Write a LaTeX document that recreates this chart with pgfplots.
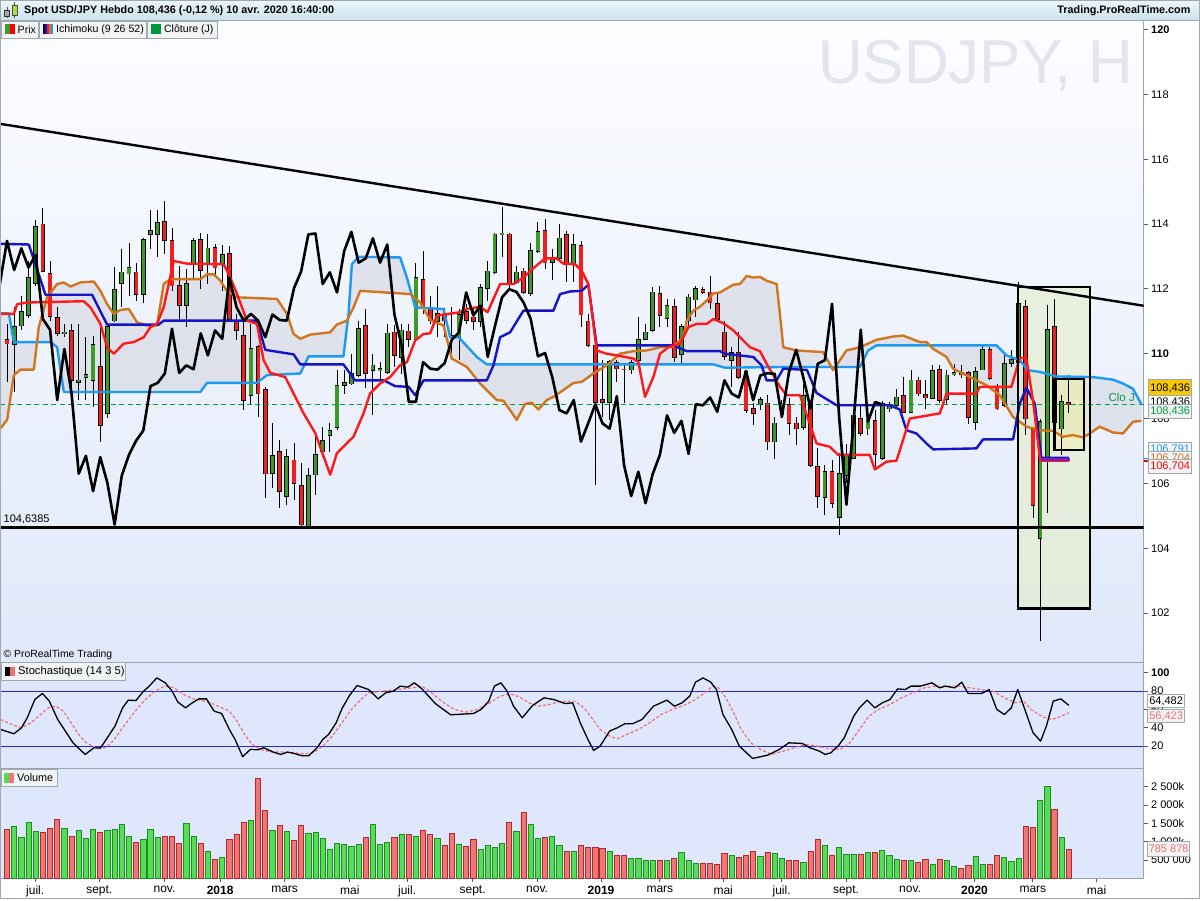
\documentclass[border=0pt]{standalone}
\usepackage{fontspec}
\setmainfont{Liberation Sans}
\usepackage{pgfplots}
\pgfplotsset{compat=1.18}
\usepackage{pgfplotstable}

\definecolor{frame}{HTML}{9AA4AE}
\definecolor{pTop}{HTML}{FCFDFF}
\definecolor{pBot}{HTML}{E0E8FA}
\definecolor{sBg}{HTML}{DEE7FB}
\definecolor{tenkan}{HTML}{FF1A1A}
\definecolor{kijun}{HTML}{1414C8}
\definecolor{spanA}{HTML}{1E9BF0}
\definecolor{spanB}{HTML}{D0761C}
\definecolor{cloud}{HTML}{D6D9E3}
\definecolor{upBody}{HTML}{3C9A28}
\definecolor{dnBody}{HTML}{F02020}
\definecolor{upVol}{HTML}{55DD55}
\definecolor{upVolE}{HTML}{1E8C1E}
\definecolor{dnVol}{HTML}{F07575}
\definecolor{dnVolE}{HTML}{B02A2A}
\definecolor{cloj}{HTML}{00A040}
\definecolor{wm}{HTML}{E3E5EE}
\definecolor{purp}{HTML}{7A1FB8}
\definecolor{stD}{HTML}{F07070}
\definecolor{stH}{HTML}{2828D8}
\definecolor{hdrTop}{HTML}{ECF6FB}
\definecolor{hdrBot}{HTML}{CCE2EE}
\definecolor{boxBg}{HTML}{F1F3F5}
\definecolor{boxBd}{HTML}{A0A8B0}
\definecolor{rectBig}{HTML}{E4EDC4}
\definecolor{rectSm}{HTML}{F2F0A8}
\definecolor{gold}{HTML}{F8C800}
\definecolor{navyI}{HTML}{000050}
\definecolor{iconG}{HTML}{009638}
\definecolor{lime}{HTML}{A8E240}

% weekly candles: index, open, high, low, close, volume (k), up flag
\pgfplotstableread{
i O H L C V d
0 110.43 110.92 109.13 110.31 1326 0
1 110.31 111.43 108.82 110.84 1417 1
2 110.87 111.79 110.72 111.28 1117 1
3 111.18 112.86 111.10 112.35 1517 1
4 112.17 114.14 112.10 113.91 1272 1
5 113.99 114.50 112.51 112.54 1253 0
6 112.47 112.86 111.02 111.15 1353 0
7 111.10 111.43 110.56 110.63 1599 0
8 110.62 110.92 110.51 110.66 1353 1
9 110.70 110.92 108.67 109.18 1135 0
10 109.13 110.92 108.57 109.18 1299 1
11 109.28 110.51 108.57 109.36 1081 1
12 109.18 110.56 108.36 110.26 1326 1
13 109.59 110.82 107.29 107.80 1244 0
14 108.16 110.87 108.01 110.82 1299 1
15 111.02 112.68 110.97 111.96 1326 1
16 112.17 113.22 111.43 112.51 1462 1
17 112.47 113.43 111.79 112.64 1135 1
18 112.51 112.81 111.64 111.84 972 0
19 111.84 113.58 111.58 113.50 1054 1
20 113.68 114.42 113.22 113.80 1326 1
21 113.70 114.42 112.97 114.04 1108 1
22 114.07 114.72 113.07 113.50 1135 0
23 113.48 113.89 111.94 112.10 1135 0
24 112.10 112.71 111.02 111.51 945 0
25 111.51 112.61 110.82 112.15 1490 1
26 112.76 113.58 112.35 113.48 1135 1
27 113.50 113.73 111.99 112.58 945 0
28 112.76 113.68 112.15 113.25 727 1
29 113.27 113.37 112.40 112.66 509 0
30 112.78 113.37 111.94 113.05 563 1
31 113.07 113.32 111.02 111.07 1054 0
32 110.97 111.23 110.41 110.74 1190 0
33 110.56 111.02 108.26 108.57 1517 0
34 108.72 110.92 108.42 110.15 1571 1
35 110.20 110.26 108.04 108.77 2716 0
36 108.88 108.98 105.55 106.30 1844 0
37 106.32 107.87 105.86 106.85 1299 1
38 106.98 107.34 105.25 105.76 1435 0
39 105.60 107.06 105.35 106.81 1272 1
40 106.71 107.24 105.50 106.01 1026 0
41 105.93 106.63 104.68 104.73 1435 0
42 104.68 106.47 104.63 106.24 1217 1
43 106.27 107.55 105.65 106.88 1244 1
44 106.98 107.75 106.83 107.32 1081 1
45 107.49 107.85 106.98 107.63 781 1
46 107.75 109.49 107.65 109.00 945 1
47 109.03 109.51 108.77 109.10 917 1
48 109.08 110.00 109.03 109.39 863 1
49 109.34 111.02 109.28 110.77 917 1
50 110.85 111.38 108.93 109.41 1108 0
51 109.49 110.00 108.11 109.64 1462 1
52 109.49 109.74 109.18 109.52 917 1
53 109.44 110.92 109.39 110.63 972 1
54 110.66 110.90 109.59 109.95 1108 0
55 109.90 110.92 109.39 110.72 1190 1
56 110.69 110.92 110.20 110.46 1190 0
57 110.46 112.81 110.41 112.35 1135 1
58 112.27 113.17 111.23 111.43 1299 0
59 111.38 111.79 110.92 111.02 1190 0
60 111.02 112.10 110.51 111.23 1081 1
61 111.18 111.41 110.51 111.02 890 0
62 110.56 111.43 109.80 110.51 1217 0
63 110.51 111.38 109.80 111.21 917 1
64 111.28 111.53 110.92 111.04 863 0
65 111.12 111.43 110.72 111.02 1054 0
66 111.02 112.15 110.82 112.02 781 1
67 112.02 112.86 111.64 112.54 890 1
68 112.51 113.73 112.45 113.68 836 1
69 113.68 114.52 112.97 113.71 945 1
70 113.68 113.73 111.94 112.15 1517 0
71 112.20 112.71 112.15 112.51 1272 1
72 112.54 112.66 111.84 111.89 1789 0
73 111.86 113.43 111.79 113.17 1462 1
74 113.17 114.07 113.12 113.76 1081 1
75 113.80 114.17 112.61 112.81 1108 0
76 112.84 113.22 112.27 112.94 1135 1
77 112.94 114.01 112.86 113.56 890 1
78 113.66 113.78 112.20 112.81 727 0
79 112.78 113.70 112.20 113.37 727 1
80 113.32 113.48 110.82 111.21 890 0
81 111.00 111.23 110.20 110.26 836 0
82 110.26 110.31 105.96 108.52 836 0
83 108.57 109.80 108.06 108.52 817 0
84 108.52 109.80 107.96 109.74 727 1
85 109.71 109.80 109.13 109.54 618 0
86 109.52 109.69 108.47 109.51 618 0
87 109.51 109.82 109.39 109.71 536 1
88 109.80 111.12 109.74 110.43 536 1
89 110.46 110.92 110.41 110.66 481 1
90 110.72 112.07 110.66 111.89 481 1
91 111.84 112.10 110.82 111.18 481 0
92 111.10 111.69 110.82 111.48 481 1
93 111.45 111.69 109.74 109.90 536 0
94 110.00 110.92 109.69 110.84 699 1
95 111.02 111.84 110.82 111.74 481 1
96 111.67 112.10 111.12 111.99 409 1
97 111.97 112.07 111.84 111.91 409 0
98 111.89 112.40 111.38 111.58 409 0
99 111.53 111.84 111.02 111.07 372 0
100 110.66 111.02 109.80 109.92 672 0
101 109.80 110.20 108.98 110.02 618 1
102 110.02 110.66 109.23 109.28 563 0
103 109.44 109.49 108.16 108.26 618 0
104 108.31 108.47 107.80 108.16 727 0
105 108.45 108.67 108.26 108.57 590 1
106 108.47 108.72 107.03 107.29 699 0
107 107.29 108.06 106.75 107.85 672 1
108 108.14 108.57 108.08 108.44 536 1
109 108.41 108.62 107.49 107.85 481 0
110 107.85 108.05 107.18 107.69 481 0
111 107.73 109.08 107.66 108.69 427 1
112 108.46 108.51 106.50 106.57 727 0
113 106.52 107.08 105.24 105.61 1054 0
114 105.59 106.57 105.03 106.36 890 1
115 106.36 106.72 105.24 105.39 618 0
116 104.96 106.95 104.42 106.29 836 1
117 106.25 107.23 106.00 106.88 645 1
118 106.77 108.26 106.74 108.10 645 1
119 108.00 108.40 107.45 107.56 645 0
120 107.69 108.46 107.49 107.93 699 1
121 107.93 108.26 106.52 106.91 699 0
122 106.77 108.55 106.72 108.44 754 1
123 108.31 108.51 108.21 108.41 618 1
124 108.41 108.92 108.36 108.65 509 1
125 108.70 109.28 108.16 108.21 481 0
126 108.21 109.49 108.16 109.18 481 1
127 109.18 109.28 108.69 108.77 427 0
128 108.74 109.18 108.31 108.65 509 0
129 108.64 109.64 108.62 109.47 372 1
130 109.49 109.66 108.48 108.57 509 0
131 108.59 109.49 108.46 109.33 481 1
132 109.36 109.69 109.30 109.40 318 1
133 109.40 109.66 109.26 109.38 263 0
134 109.41 109.47 107.83 108.05 345 0
135 107.90 109.59 107.64 109.44 590 1
136 109.51 110.26 109.49 110.12 372 1
137 110.12 110.20 109.18 109.26 372 0
138 108.98 109.08 108.26 108.31 618 0
139 108.41 109.95 108.36 109.69 563 1
140 109.71 110.10 109.59 109.80 454 1
141 109.75 112.20 109.60 111.54 536 1
142 111.45 111.66 107.49 108.00 1408 0
143 107.64 107.75 104.93 105.34 1381 0
144 104.31 108.00 101.14 107.90 2116 1
145 106.74 111.49 105.08 110.74 2498 1
146 110.82 111.69 107.85 107.90 1871 0
147 107.69 108.72 106.88 108.51 1108 1
148 108.48 109.36 108.18 108.436 786 0
}\candles

\pgfplotstableread{
x y
-0.9 113.39
3.04 113.37
4.9 112.13
5.36 111.82
11.86 111.82
13.95 110.90
21.15 110.90
21.84 111.02
34.84 111.02
36.0 110.12
39.95 109.98
40.88 109.67
46.9 109.67
48.5 109.18
52.5 109.18
54.1 109.0
55.97 108.98
56.9 108.72
58.06 109.18
66.88 109.18
67.8 109.64
68.73 110.51
70.12 110.66
71.98 111.33
76.16 111.33
77.09 111.84
78.48 111.92
80.1 111.94
81.03 112.13
82.19 110.26
92.87 110.26
94.73 110.08
99.37 110.08
100.07 110.0
104.02 109.90
105.18 109.64
105.87 109.18
107.27 109.18
108.2 109.54
111.5 109.50
112.84 108.79
115.62 108.41
123.05 108.41
124.44 108.28
125.37 107.64
126.76 107.54
128.16 107.23
129.09 107.05
135.12 107.08
136.05 107.36
140.23 107.36
141.16 108.46
142.09 108.95
143.25 108.46
144.17 106.79
148.0 106.79
}\kijun

\pgfplotstableread{
x y
-0.9 111.23
0.95 111.23
1.42 111.53
2.81 111.58
10.7 111.62
11.63 111.43
13.02 110.92
13.95 110.20
14.88 110.0
16.27 110.31
17.67 110.36
19.06 110.51
19.99 110.82
20.91 110.92
21.84 111.43
23.24 112.86
25.09 112.78
30.2 112.76
31.13 112.35
32.06 111.84
33.45 111.02
34.84 110.92
35.77 109.80
36.7 109.41
38.79 109.28
39.95 108.77
41.34 108.16
42.97 107.55
44.13 106.83
45.05 106.27
45.98 106.93
47.84 107.34
48.3 107.44
49.7 108.16
50.6 108.77
52.0 109.08
53.4 109.28
54.8 109.65
55.73 109.74
56.9 110.41
58.06 110.61
58.99 110.63
59.92 111.18
63.17 111.28
64.1 111.38
65.95 111.45
66.98 111.28
68.73 112.15
70.59 112.15
71.98 112.35
73.38 112.64
75.0 112.94
76.63 112.94
77.56 112.78
79.18 112.76
80.1 112.56
81.03 112.15
82.19 110.10
83.58 110.0
84.98 109.95
87.3 109.85
88.0 109.74
88.93 108.67
90.09 109.28
91.02 110.0
92.18 110.20
93.81 110.31
94.97 110.82
96.13 110.92
97.52 110.92
98.45 111.07
99.85 110.94
101.24 110.72
102.17 110.51
103.56 110.20
104.95 110.08
105.88 109.69
107.74 108.98
108.66 108.72
110.52 108.72
112.84 107.23
114.69 107.13
115.85 106.88
120.26 106.88
120.96 106.43
122.58 106.67
123.98 106.70
125.84 108.0
130.02 108.16
130.95 108.77
135.12 108.77
135.59 108.98
140.0 108.98
141.16 109.88
142.09 109.85
143.0 108.57
144.0 106.70
148.0 106.70
}\tenkan

\pgfplotstableread{
x y
-0.9 111.25
0.26 111.25
0.95 110.36
6.06 110.36
6.99 110.20
7.92 108.82
26.95 108.82
27.88 109.10
34.84 109.10
36.23 109.34
40.88 109.39
42.04 109.92
46.9 109.92
47.6 111.23
48.07 112.76
49.0 112.99
54.8 112.97
55.73 112.35
56.9 111.43
60.84 111.38
61.77 110.51
62.93 110.51
65.49 109.90
66.88 109.67
98.45 109.67
100.07 109.57
107.73 109.59
118.87 109.59
120.03 110.10
121.2 110.26
137.9 110.26
139.3 109.95
141.16 109.80
142.32 109.49
143.94 109.44
146.26 109.30
151.37 109.28
154.15 109.20
155.55 109.08
156.94 108.92
158.1 108.45
}\spanAtab

\pgfplotstableread{
x y
-0.9 107.70
0.02 107.96
0.95 109.34
1.88 109.51
3.74 109.51
4.43 110.82
5.59 111.74
6.99 112.15
7.92 112.20
8.84 112.07
10.24 112.20
12.09 112.23
13.02 111.94
13.95 111.53
14.88 111.23
15.81 111.35
16.97 111.38
18.13 110.97
19.52 110.87
20.91 110.87
21.84 112.15
22.77 112.30
26.95 112.30
27.88 112.45
28.81 112.45
29.74 112.25
30.66 111.94
32.06 111.74
37.63 111.69
39.02 111.23
39.95 110.61
40.88 110.46
42.27 110.59
45.05 110.66
45.98 110.90
47.38 111.02
48.3 111.43
49.23 111.94
54.8 111.86
56.2 111.84
57.59 111.58
58.99 111.04
60.84 110.87
62.0 109.85
64.1 109.59
65.95 109.08
67.12 108.82
68.27 108.57
69.2 108.55
70.12 108.26
71.05 107.96
72.21 108.45
73.14 108.49
74.07 108.28
75.23 108.57
76.16 108.67
77.56 108.88
78.96 109.10
80.1 109.13
81.73 109.39
83.58 109.64
85.44 110.0
87.3 110.08
89.16 110.10
91.02 110.20
92.87 110.22
94.27 110.51
94.73 111.02
95.66 111.33
96.59 111.45
97.52 111.64
98.45 111.86
99.37 111.89
101.24 112.13
102.17 112.15
103.09 112.40
104.02 112.35
104.95 112.37
105.88 112.25
107.27 112.15
107.73 111.23
108.2 110.20
110.05 110.10
113.76 110.05
115.15 109.49
117.0 110.10
118.87 110.20
121.2 110.43
123.51 110.53
124.9 110.56
127.23 110.36
128.16 110.36
129.09 110.15
130.95 109.90
131.87 109.54
133.73 109.33
136.51 109.03
138.37 108.72
140.23 108.05
142.09 107.75
143.94 107.64
145.8 107.62
147.19 107.44
148.58 107.49
149.98 107.42
150.91 107.54
152.3 107.75
154.15 107.57
155.55 107.54
156.94 107.90
158.1 107.93
}\spanBtab

% cloud outline: first span forward, second span backward
\pgfplotstableread{
x y
-0.9 111.25
0.26 111.25
0.95 110.36
6.06 110.36
6.99 110.20
7.92 108.82
26.95 108.82
27.88 109.10
34.84 109.10
36.23 109.34
40.88 109.39
42.04 109.92
46.9 109.92
47.6 111.23
48.07 112.76
49.0 112.99
54.8 112.97
55.73 112.35
56.9 111.43
60.84 111.38
61.77 110.51
62.93 110.51
65.49 109.90
66.88 109.67
98.45 109.67
100.07 109.57
107.73 109.59
118.87 109.59
120.03 110.10
121.2 110.26
137.9 110.26
139.3 109.95
141.16 109.80
142.32 109.49
143.94 109.44
146.26 109.30
151.37 109.28
154.15 109.20
155.55 109.08
156.94 108.92
158.1 108.45
158.1 107.93
156.94 107.90
155.55 107.54
154.15 107.57
152.3 107.75
150.91 107.54
149.98 107.42
148.58 107.49
147.19 107.44
145.8 107.62
143.94 107.64
142.09 107.75
140.23 108.05
138.37 108.72
136.51 109.03
133.73 109.33
131.87 109.54
130.95 109.90
129.09 110.15
128.16 110.36
127.23 110.36
124.9 110.56
123.51 110.53
121.2 110.43
118.87 110.20
117.0 110.10
115.15 109.49
113.76 110.05
110.05 110.10
108.2 110.20
107.73 111.23
107.27 112.15
105.88 112.25
104.95 112.37
104.02 112.35
103.09 112.40
102.17 112.15
101.24 112.13
99.37 111.89
98.45 111.86
97.52 111.64
96.59 111.45
95.66 111.33
94.73 111.02
94.27 110.51
92.87 110.22
91.02 110.20
89.16 110.10
87.3 110.08
85.44 110.0
83.58 109.64
81.73 109.39
80.1 109.13
78.96 109.10
77.56 108.88
76.16 108.67
75.23 108.57
74.07 108.28
73.14 108.49
72.21 108.45
71.05 107.96
70.12 108.26
69.2 108.55
68.27 108.57
67.12 108.82
65.95 109.08
64.1 109.59
62.0 109.85
60.84 110.87
58.99 111.04
57.59 111.58
56.2 111.84
54.8 111.86
49.23 111.94
48.3 111.43
47.38 111.02
45.98 110.90
45.05 110.66
42.27 110.59
40.88 110.46
39.95 110.61
39.02 111.23
37.63 111.69
32.06 111.74
30.66 111.94
29.74 112.25
28.81 112.45
27.88 112.45
26.95 112.30
22.77 112.30
21.84 112.15
20.91 110.87
19.52 110.87
18.13 110.97
16.97 111.38
15.81 111.35
14.88 111.23
13.95 111.53
13.02 111.94
12.09 112.23
10.24 112.20
8.84 112.07
7.92 112.20
6.99 112.15
5.59 111.74
4.43 110.82
3.74 109.51
1.88 109.51
0.95 109.34
0.02 107.96
-0.9 107.70
}\cloudtab

\pgfplotstableread{
x y
-0.9 38.2
0.96 33.5
2.02 40.0
2.82 50.9
3.88 70.9
4.94 77.5
5.9 69.1
7.07 49.1
8.13 36.4
9.2 23.6
10.9 10.9
12.12 18.2
13.02 17.8
13.98 29.1
15.05 41.8
16.11 61.8
16.91 70.2
17.97 69.8
19.03 80.0
19.83 85.5
20.89 94.5
22.06 89.1
23.02 80.0
23.82 68.0
24.88 61.8
25.68 66.5
26.74 71.6
27.8 71.6
28.87 58.2
29.93 55.6
30.99 38.2
31.79 27.3
32.85 8.4
33.92 16.4
34.98 16.0
35.78 18.2
37.11 13.5
38.17 10.9
39.08 13.5
40.03 12.0
41.1 9.5
42.05 9.5
43.22 18.2
44.02 27.3
44.82 32.7
45.88 45.5
46.68 60.7
47.74 75.3
48.8 86.2
50.4 81.8
51.73 71.6
52.79 78.2
53.85 80.0
54.81 85.5
55.87 84.4
56.78 89.1
57.84 82.5
59.7 66.5
61.83 54.2
65.02 55.6
66.08 60.0
67.15 69.1
67.94 85.5
68.85 89.1
69.7 80.0
70.6 63.6
71.82 50.9
73.26 64.4
74.85 72.7
76.18 70.9
77.78 66.5
78.84 67.3
79.9 45.5
80.97 27.3
81.77 15.3
82.67 20.0
84.0 36.4
85.06 40.0
86.12 44.4
87.19 44.4
88.52 49.1
90.11 63.6
91.97 70.2
93.04 63.6
94.1 67.3
95.16 74.5
95.96 89.8
97.02 94.5
98.09 89.8
98.88 81.8
99.79 54.5
101.01 38.2
102.07 20.0
103.93 6.5
106.06 10.2
107.66 16.4
108.98 23.6
110.85 22.9
111.91 18.2
113.24 14.5
114.04 10.9
114.83 12.7
115.9 20.7
116.7 29.1
118.02 52.7
118.82 61.8
119.88 70.2
120.95 61.8
122.01 67.3
123.07 70.9
124.14 82.5
125.2 81.8
126.0 85.5
127.33 85.5
128.93 89.1
129.99 83.6
130.78 85.5
132.11 83.6
133.07 89.8
133.97 77.5
135.83 77.5
136.9 81.8
137.96 60.0
139.02 54.5
139.98 61.8
140.88 81.8
141.95 58.2
143.01 34.5
144.07 25.5
144.87 41.8
145.83 69.1
146.89 71.6
148.0 64.48
}\stochK

\pgfplotstableread{
x y
-0.9 49.1
0.69 43.6
2.02 40.0
3.35 45.5
4.41 52.7
5.74 61.8
6.8 63.6
7.87 58.2
8.93 45.5
9.99 32.7
11.06 23.6
12.39 18.2
13.72 18.2
14.78 25.5
16.11 40.0
17.17 50.9
18.23 61.8
19.3 70.9
20.63 80.0
21.96 85.5
23.29 83.6
24.61 76.4
25.94 71.6
27.27 69.8
28.6 66.5
29.93 61.8
30.99 58.2
32.06 47.3
33.12 32.7
34.18 21.8
35.25 16.4
36.84 13.5
38.44 13.5
40.03 12.7
41.63 11.6
42.69 12.7
44.02 20.0
45.35 30.9
46.68 45.5
48.01 60.0
49.34 70.9
50.4 78.2
52.26 80.0
54.39 81.8
56.51 83.6
57.84 85.5
59.17 78.2
60.77 68.0
62.36 60.0
63.96 57.1
65.55 60.0
67.15 66.5
68.74 74.5
70.07 77.1
71.4 73.8
72.73 67.3
74.06 63.6
75.65 65.5
77.25 69.1
79.11 69.1
80.44 61.8
81.5 50.9
82.67 38.2
84.0 30.9
85.06 28.0
86.39 32.7
87.98 38.2
89.58 45.5
91.17 54.5
92.77 60.0
94.36 64.4
95.96 70.9
97.29 78.2
98.35 85.5
99.15 83.6
100.21 72.7
101.28 56.4
102.34 38.2
103.67 23.6
105.0 16.4
106.59 10.9
108.19 14.5
109.78 18.2
111.38 21.8
112.97 20.0
114.57 17.1
116.17 16.4
117.49 23.6
118.82 38.2
120.15 52.7
121.48 60.0
123.07 65.5
124.67 72.7
126.26 78.2
127.86 83.6
129.45 85.5
132.64 85.5
134.24 83.6
135.83 81.8
137.43 80.0
139.02 72.7
140.62 67.3
141.68 69.1
142.75 60.0
144.34 52.0
145.67 49.1
146.73 52.0
148.0 56.42
}\stochD

\pgfplotsset{
  chartax/.style={
    scale only axis, width=1144pt, anchor=north west,
    xmin=-0.905, xmax=158.43,
    axis line style={draw=frame, line width=1pt},
    ytick pos=right, yticklabel pos=right,
    tick align=outside, major tick length=4pt,
    tick style={draw=black!65, line width=0.8pt},
    tick label style={font=\fontsize{11}{13}\selectfont, text=black},
    clip=true,
  },
  up/.style={restrict expr to domain={\thisrow{d}}{0.5:1.5}},
  dn/.style={restrict expr to domain={\thisrow{d}}{-0.5:0.5}},
}

\newcommand{\valbox}[7]{%
  \filldraw[fill=#5, draw=boxBd, line width=0.8pt] (#1,#2) rectangle (#3,#4);
  \node[text=#6, font=\fontsize{11}{13}\selectfont, inner sep=0pt] at ({(#1+#3)/2},{(#2+#4)/2}) {#7};}

\begin{document}
\begin{tikzpicture}[x=1pt,y=1pt]
\fill[white] (0,0) rectangle (1200,900);
\shade[top color=hdrTop, bottom color=hdrBot] (0,880) rectangle (1200,900);
\shade[top color=pTop, bottom color=pBot] (0,237) rectangle (1144,879);
\fill[sBg] (0,21) rectangle (1144,237);
\node[anchor=base west, text=wm, font=\fontsize{62}{62}\selectfont, inner sep=0pt]
  at (818,816) {USDJPY, H};

% ---------------- price panel ----------------
\begin{axis}[chartax,
  at={(0pt,879pt)}, height=642pt,
  ymin=100.475, ymax=120.265,
  xtick=\empty,
  ytick={102,104,...,120},
  yticklabels={102,104,106,108,\textbf{110},112,114,116,118,\textbf{120}},
]
\addplot[fill=cloud, fill opacity=0.65, draw=none, forget plot] table {\cloudtab};

\addplot[fill=rectBig, fill opacity=0.55, draw=none, forget plot]
  coordinates {(140.9,112.05) (151.0,112.05) (151.0,102.14) (140.9,102.14) (140.9,112.05)};
\addplot[fill=rectSm, fill opacity=0.45, draw=none, forget plot]
  coordinates {(146.0,109.22) (150.07,109.22) (150.07,107.03) (146.0,107.03) (146.0,109.22)};

% wicks
\addplot[draw=none, mark=none, forget plot,
  error bars/.cd, y dir=both, y explicit, error mark=none,
  error bar style={draw=black, line width=0.9pt}]
  table[x=i, y expr={(\thisrow{H}+\thisrow{L})/2}, y error expr={(\thisrow{H}-\thisrow{L})/2}] {\candles};
% body outlines
\addplot[draw=none, mark=none, forget plot,
  error bars/.cd, y dir=both, y explicit, error mark=none,
  error bar style={draw=black, line width=4.7pt}]
  table[x=i, y expr={(\thisrow{O}+\thisrow{C})/2}, y error expr={abs(\thisrow{C}-\thisrow{O})/2+0.025}] {\candles};
% bodies
\addplot[draw=none, mark=none, forget plot, up,
  error bars/.cd, y dir=both, y explicit, error mark=none,
  error bar style={draw=upBody, line width=3.2pt}]
  table[x=i, y expr={(\thisrow{O}+\thisrow{C})/2}, y error expr={abs(\thisrow{C}-\thisrow{O})/2}] {\candles};
\addplot[draw=none, mark=none, forget plot, dn,
  error bars/.cd, y dir=both, y explicit, error mark=none,
  error bar style={draw=dnBody, line width=3.2pt}]
  table[x=i, y expr={(\thisrow{O}+\thisrow{C})/2}, y error expr={abs(\thisrow{C}-\thisrow{O})/2}] {\candles};

% support and trend lines
\addplot[black, line width=2.1pt, forget plot] coordinates {(-0.905,104.6385) (158.43,104.6385)};
\addplot[black, line width=2.4pt, forget plot] coordinates {(-0.905,117.09) (158.43,111.48)};
\addplot[cloj, line width=1.6pt, dash pattern=on 5pt off 3.5pt, forget plot]
  coordinates {(-0.905,108.436) (158.43,108.436)};

% ichimoku
\addplot[spanA, line width=2.4pt, line join=round, forget plot] table {\spanAtab};
\addplot[spanB, line width=2.4pt, line join=round, forget plot] table {\spanBtab};
\addplot[kijun, line width=2.4pt, line join=round, forget plot] table {\kijun};
\addplot[tenkan, line width=2.4pt, line join=round, forget plot] table {\tenkan};
\addplot[black, line width=2.6pt, line join=round, forget plot]
  table[x expr={\thisrow{i}-26}, y=C] {\candles};
\addplot[purp, line width=2.4pt, forget plot] coordinates {(144.1,106.74) (148.1,106.74)};

% boxes
\addplot[draw=black, line width=2.2pt, line join=miter, forget plot]
  coordinates {(140.9,112.05) (151.0,112.05) (151.0,102.14) (140.9,102.14) (140.9,112.05)};
\addplot[draw=black, line width=2.2pt, line join=miter, forget plot]
  coordinates {(146.0,109.22) (150.07,109.22) (150.07,107.03) (146.0,107.03) (146.0,109.22)};
\end{axis}

% ---------------- stochastic panel ----------------
\begin{axis}[chartax,
  at={(0pt,237pt)}, height=106pt,
  ymin=-4.36, ymax=111.3,
  xtick=\empty,
  ytick={20,40,60,80,100},
  yticklabels={20,40,60,80,\textbf{100}},
]
\addplot[stH, line width=1.2pt] coordinates {(-1,80) (159,80)};
\addplot[stH, line width=1.2pt] coordinates {(-1,20) (159,20)};
\addplot[stD, line width=1.2pt, dash pattern=on 3pt off 2pt] table {\stochD};
\addplot[black, line width=1.3pt, line join=round] table {\stochK};
\end{axis}

% ---------------- volume panel ----------------
\begin{axis}[chartax,
  at={(0pt,131pt)}, height=110pt,
  ymin=0, ymax=3000,
  ytick={500,1000,1500,2000,2500},
  yticklabels={500 000,1 000k,1 500k,2 000k,2 500k},
  xtick pos=left,
  xtick={3.93,12.87,21.95,29.71,38.70,47.79,55.77,64.90,73.89,82.80,91.0,99.83,107.97,116.95,125.88,134.86,142.99,151.86},
  xticklabels={juil.,sept.,nov.,\textbf{2018},mars,mai,juil.,sept.,nov.,\textbf{2019},mars,mai,juil.,sept.,nov.,\textbf{2020},mars,mai},
  xticklabel style={font=\fontsize{12}{14}\selectfont},
]
\addplot[ybar, bar width=5.2pt, bar shift=0pt, fill=upVol, draw=upVolE, line width=0.8pt, up]
  table[x=i, y=V] {\candles};
\addplot[ybar, bar width=5.2pt, bar shift=0pt, fill=dnVol, draw=dnVolE, line width=0.8pt, dn]
  table[x=i, y=V] {\candles};
\end{axis}

% ---------------- header and labels ----------------
\draw[boxBd, line width=0.8pt] (0,879.6) -- (1200,879.6);
\draw[black!70, line width=0.6pt] (6.5,882) -- (6.5,893);
\filldraw[fill=gray!70, draw=black!80, line width=0.5pt] (4,884) rectangle (9,890);
\draw[black!70, line width=0.6pt] (14,882) -- (14,898);
\filldraw[fill=lime, draw=black!70, line width=0.5pt] (11.5,885) rectangle (16.5,895);
\node[anchor=west, inner sep=0pt, font=\bfseries\fontsize{10.8}{13}\selectfont] at (23.5,889.5)
  {Spot USD/JPY Hebdo 108,436 (-0,12 \%) 10 avr. 2020 16:40:00};
\node[anchor=east, inner sep=0pt, font=\bfseries\fontsize{10.8}{13}\selectfont] at (1191,889.5)
  {Trading.ProRealTime.com};

\filldraw[fill=boxBg, draw=boxBd, line width=0.8pt] (0.5,862) rectangle (38,879);
\fill[upBody] (4.5,866) rectangle (9.5,876); \fill[red] (9.5,866) rectangle (14.5,876);
\node[anchor=west, inner sep=0pt, font=\fontsize{10.6}{13}\selectfont] at (17,870.5) {Prix};
\filldraw[fill=boxBg, draw=boxBd, line width=0.8pt] (39,862) rectangle (146,879);
\fill[navyI] (43,866) rectangle (45,876);
\fill[kijun] (45,866) rectangle (47,876);
\fill[tenkan] (47,866) rectangle (49,876);
\fill[spanB] (49,866) rectangle (51,876);
\fill[spanA] (51,866) rectangle (53,876);
\node[anchor=west, inner sep=0pt, font=\fontsize{10.6}{13}\selectfont] at (55.5,870.5) {Ichimoku (9 26 52)};
\filldraw[fill=boxBg, draw=boxBd, line width=0.8pt] (147,862) rectangle (217,879);
\fill[iconG] (151,866) rectangle (161,876);
\node[anchor=west, inner sep=0pt, font=\fontsize{10.6}{13}\selectfont] at (163.5,870.5) {Clôture (J)};

\node[anchor=west, inner sep=0pt, font=\fontsize{10.4}{13}\selectfont] at (3,244.5) {© ProRealTime Trading};
\filldraw[fill=boxBg, draw=boxBd, line width=0.8pt] (0.5,219) rectangle (125,237);
\fill[black] (5,223) rectangle (10,232); \fill[stD] (10,223) rectangle (15,232);
\node[anchor=west, inner sep=0pt, font=\fontsize{11.2}{13}\selectfont] at (17.5,227.5) {Stochastique (14 3 5)};
\filldraw[fill=boxBg, draw=boxBd, line width=0.8pt] (0.5,113) rectangle (57,130);
\fill[upVol] (4,116.5) rectangle (9,126.5); \fill[dnVol] (9,116.5) rectangle (14,126.5);
\node[anchor=west, inner sep=0pt, font=\fontsize{10.8}{13}\selectfont] at (16.5,121.5) {Volume};

\node[anchor=west, inner sep=0pt, font=\fontsize{11}{13}\selectfont] at (3,380.5) {104,6385};
\node[text=cloj, inner sep=0pt, font=\fontsize{11.5}{13}\selectfont] at (1122,502) {Clo J};

\valbox{1149}{503}{1192}{520}{gold}{black}{108,436}
\valbox{1149}{490}{1192}{504}{white}{black}{108,436}
\valbox{1149}{481}{1192}{495}{boxBg}{cloj}{108,436}
\draw[spanA, line width=1.4pt] (1144,441) -- (1149,441);
\draw[red, line width=1.4pt] (1144,438.5) -- (1149,438.5);
\valbox{1149}{444}{1192}{457}{boxBg}{spanA}{106,791}
\valbox{1149}{435}{1192}{448}{boxBg}{spanB}{106,704}
\valbox{1149}{426}{1192}{440}{boxBg}{red}{106,704}
\valbox{1148}{192}{1185}{205}{white}{black}{64,482}
\valbox{1148}{177}{1185}{190}{boxBg}{stD}{56,423}
\valbox{1148}{43}{1190}{58}{boxBg}{stD}{785 878}

\draw[boxBd, line width=1pt] (0.5,0.5) rectangle (1199.5,899.5);
\end{tikzpicture}
\end{document}
